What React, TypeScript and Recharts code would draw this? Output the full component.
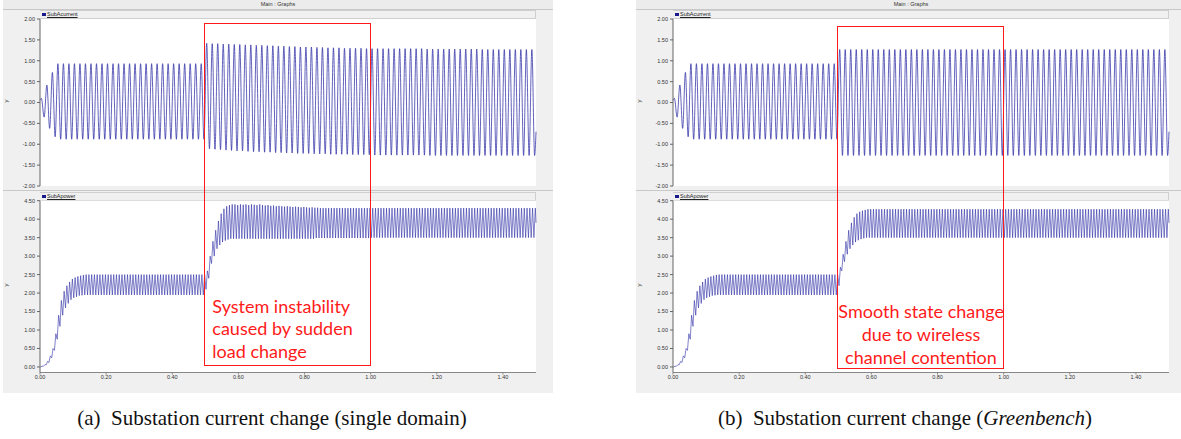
import React from 'react';
import { LineChart, Line, XAxis, YAxis, CartesianGrid } from 'recharts';

// ---- SubAcurrent (60 Hz): one peak and one trough per cycle ----
const currentPeaksBeforeStep = [
  0.1, 0.42, 0.72, 0.93, 0.93, 0.93, 0.93, 0.93, 0.93, 0.93,
  0.93, 0.93, 0.93, 0.93, 0.93, 0.93, 0.93, 0.93, 0.93, 0.93,
  0.93, 0.93, 0.93, 0.93, 0.93, 0.93, 0.93, 0.93, 0.93, 0.93,
];
const currentTroughsBeforeStep = [
  -0.35, -0.62, -0.82, -0.88, -0.88, -0.88, -0.88, -0.88, -0.88, -0.88,
  -0.88, -0.88, -0.88, -0.88, -0.88, -0.88, -0.88, -0.88, -0.88, -0.88,
  -0.88, -0.88, -0.88, -0.88, -0.88, -0.88, -0.88, -0.88, -0.88, -0.88,
];
const currentPeaksAfterStepA = [
  1.42, 1.41, 1.41, 1.4, 1.4, 1.39, 1.39, 1.38, 1.38, 1.37,
  1.37, 1.36, 1.36, 1.35, 1.35, 1.34, 1.34, 1.33, 1.33, 1.33,
  1.32, 1.32, 1.31, 1.31, 1.31, 1.3, 1.3, 1.3, 1.3, 1.29,
  1.29, 1.29, 1.29, 1.29, 1.29, 1.29, 1.29, 1.29, 1.29, 1.29,
  1.28, 1.28, 1.28, 1.28, 1.28, 1.28, 1.28, 1.28, 1.28, 1.28,
  1.27, 1.27, 1.27, 1.27, 1.27, 1.27, 1.27, 1.27, 1.27, 1.27,
];
const currentTroughsAfterStepA = [
  -1.11, -1.12, -1.13, -1.14, -1.15, -1.16, -1.16, -1.17, -1.18, -1.18,
  -1.19, -1.19, -1.2, -1.2, -1.21, -1.21, -1.22, -1.22, -1.22, -1.23,
  -1.23, -1.23, -1.24, -1.24, -1.24, -1.24, -1.25, -1.25, -1.25, -1.25,
  -1.26, -1.26, -1.26, -1.26, -1.26, -1.26, -1.26, -1.26, -1.26, -1.26,
  -1.27, -1.27, -1.27, -1.27, -1.27, -1.27, -1.27, -1.27, -1.27, -1.27,
  -1.27, -1.27, -1.27, -1.27, -1.27, -1.27, -1.27, -1.27, -1.27, -1.27,
];
const currentPeaksAfterStepB = [
  1.27, 1.27, 1.27, 1.27, 1.27, 1.27, 1.27, 1.27, 1.27, 1.27,
  1.27, 1.27, 1.27, 1.27, 1.27, 1.27, 1.27, 1.27, 1.27, 1.27,
  1.27, 1.27, 1.27, 1.27, 1.27, 1.27, 1.27, 1.27, 1.27, 1.27,
  1.27, 1.27, 1.27, 1.27, 1.27, 1.27, 1.27, 1.27, 1.27, 1.27,
  1.27, 1.27, 1.27, 1.27, 1.27, 1.27, 1.27, 1.27, 1.27, 1.27,
  1.27, 1.27, 1.27, 1.27, 1.27, 1.27, 1.27, 1.27, 1.27, 1.27,
];
const currentTroughsAfterStepB = [
  -1.27, -1.27, -1.27, -1.27, -1.27, -1.27, -1.27, -1.27, -1.27, -1.27,
  -1.27, -1.27, -1.27, -1.27, -1.27, -1.27, -1.27, -1.27, -1.27, -1.27,
  -1.27, -1.27, -1.27, -1.27, -1.27, -1.27, -1.27, -1.27, -1.27, -1.27,
  -1.27, -1.27, -1.27, -1.27, -1.27, -1.27, -1.27, -1.27, -1.27, -1.27,
  -1.27, -1.27, -1.27, -1.27, -1.27, -1.27, -1.27, -1.27, -1.27, -1.27,
  -1.27, -1.27, -1.27, -1.27, -1.27, -1.27, -1.27, -1.27, -1.27, -1.27,
];
const currentStartValue = 0.05;
const currentEndValue = -0.7;

// ---- SubApower (120 Hz ripple): one low and one high per ripple cycle ----
const powerLowsBeforeStep = [
  0, 0.02, 0.06, 0.12, 0.25, 0.45, 0.75, 1.1, 1.4, 1.6,
  1.72, 1.82, 1.87, 1.9, 1.93, 1.94, 1.95, 1.95, 1.95, 1.95,
  1.95, 1.95, 1.95, 1.95, 1.95, 1.95, 1.95, 1.95, 1.95, 1.95,
  1.95, 1.95, 1.95, 1.95, 1.95, 1.95, 1.95, 1.95, 1.95, 1.95,
  1.95, 1.95, 1.95, 1.95, 1.95, 1.95, 1.95, 1.95, 1.95, 1.95,
  1.95, 1.95, 1.95, 1.95, 1.95, 1.95, 1.95, 1.95, 1.95, 1.95,
];
const powerHighsBeforeStep = [
  0.02, 0.06, 0.15, 0.3, 0.5, 0.9, 1.4, 1.8, 2.05, 2.2,
  2.3, 2.38, 2.42, 2.45, 2.47, 2.49, 2.5, 2.5, 2.5, 2.5,
  2.5, 2.5, 2.5, 2.5, 2.5, 2.5, 2.5, 2.5, 2.5, 2.5,
  2.5, 2.5, 2.5, 2.5, 2.5, 2.5, 2.5, 2.5, 2.5, 2.5,
  2.5, 2.5, 2.5, 2.5, 2.5, 2.5, 2.5, 2.5, 2.5, 2.5,
  2.5, 2.5, 2.5, 2.5, 2.5, 2.5, 2.5, 2.5, 2.5, 2.5,
];
const powerLowsAfterStepA = [
  2.1, 2.4, 2.8, 3.0, 3.2, 3.3, 3.38, 3.42, 3.45, 3.47,
  3.47, 3.47, 3.47, 3.47, 3.47, 3.47, 3.47, 3.47, 3.47, 3.47,
  3.47, 3.47, 3.47, 3.47, 3.47, 3.47, 3.47, 3.47, 3.47, 3.47,
  3.47, 3.47, 3.47, 3.47, 3.47, 3.47, 3.47, 3.47, 3.47, 3.47,
  3.49, 3.49, 3.49, 3.49, 3.49, 3.49, 3.49, 3.49, 3.49, 3.49,
  3.49, 3.49, 3.49, 3.49, 3.49, 3.49, 3.49, 3.49, 3.49, 3.49,
  3.5, 3.5, 3.5, 3.5, 3.5, 3.5, 3.5, 3.5, 3.5, 3.5,
  3.5, 3.5, 3.5, 3.5, 3.5, 3.5, 3.5, 3.5, 3.5, 3.5,
  3.5, 3.5, 3.5, 3.5, 3.5, 3.5, 3.5, 3.5, 3.5, 3.5,
  3.5, 3.5, 3.5, 3.5, 3.5, 3.5, 3.5, 3.5, 3.5, 3.5,
  3.5, 3.5, 3.5, 3.5, 3.5, 3.5, 3.5, 3.5, 3.5, 3.5,
  3.5, 3.5, 3.5, 3.5, 3.5, 3.5, 3.5, 3.5, 3.5, 3.5,
];
const powerHighsAfterStepA = [
  2.6, 3.0, 3.4, 3.7, 3.95, 4.15, 4.28, 4.35, 4.38, 4.4,
  4.4, 4.38, 4.4, 4.39, 4.4, 4.38, 4.4, 4.39, 4.38, 4.4,
  4.38, 4.37, 4.38, 4.36, 4.37, 4.35, 4.36, 4.35, 4.34, 4.35,
  4.34, 4.33, 4.34, 4.33, 4.32, 4.33, 4.32, 4.31, 4.32, 4.31,
  4.31, 4.3, 4.3, 4.3, 4.3, 4.3, 4.3, 4.3, 4.3, 4.3,
  4.3, 4.3, 4.3, 4.3, 4.3, 4.3, 4.3, 4.3, 4.3, 4.3,
  4.3, 4.3, 4.3, 4.3, 4.3, 4.3, 4.3, 4.3, 4.3, 4.3,
  4.3, 4.3, 4.3, 4.3, 4.3, 4.3, 4.3, 4.3, 4.3, 4.3,
  4.3, 4.3, 4.3, 4.3, 4.3, 4.3, 4.3, 4.3, 4.3, 4.3,
  4.3, 4.3, 4.3, 4.3, 4.3, 4.3, 4.3, 4.3, 4.3, 4.3,
  4.3, 4.3, 4.3, 4.3, 4.3, 4.3, 4.3, 4.3, 4.3, 4.3,
  4.3, 4.3, 4.3, 4.3, 4.3, 4.3, 4.3, 4.3, 4.3, 4.3,
];
const powerLowsAfterStepB = [
  2.2, 2.6, 2.85, 3.05, 3.2, 3.3, 3.38, 3.43, 3.46, 3.48,
  3.5, 3.5, 3.5, 3.5, 3.5, 3.5, 3.5, 3.5, 3.5, 3.5,
  3.5, 3.5, 3.5, 3.5, 3.5, 3.5, 3.5, 3.5, 3.5, 3.5,
  3.5, 3.5, 3.5, 3.5, 3.5, 3.5, 3.5, 3.5, 3.5, 3.5,
  3.5, 3.5, 3.5, 3.5, 3.5, 3.5, 3.5, 3.5, 3.5, 3.5,
  3.5, 3.5, 3.5, 3.5, 3.5, 3.5, 3.5, 3.5, 3.5, 3.5,
  3.5, 3.5, 3.5, 3.5, 3.5, 3.5, 3.5, 3.5, 3.5, 3.5,
  3.5, 3.5, 3.5, 3.5, 3.5, 3.5, 3.5, 3.5, 3.5, 3.5,
  3.5, 3.5, 3.5, 3.5, 3.5, 3.5, 3.5, 3.5, 3.5, 3.5,
  3.5, 3.5, 3.5, 3.5, 3.5, 3.5, 3.5, 3.5, 3.5, 3.5,
  3.5, 3.5, 3.5, 3.5, 3.5, 3.5, 3.5, 3.5, 3.5, 3.5,
  3.5, 3.5, 3.5, 3.5, 3.5, 3.5, 3.5, 3.5, 3.5, 3.5,
];
const powerHighsAfterStepB = [
  2.7, 3.05, 3.4, 3.7, 3.9, 4.05, 4.15, 4.2, 4.23, 4.25,
  4.27, 4.27, 4.27, 4.27, 4.27, 4.27, 4.27, 4.27, 4.27, 4.27,
  4.27, 4.27, 4.27, 4.27, 4.27, 4.27, 4.27, 4.27, 4.27, 4.27,
  4.27, 4.27, 4.27, 4.27, 4.27, 4.27, 4.27, 4.27, 4.27, 4.27,
  4.27, 4.27, 4.27, 4.27, 4.27, 4.27, 4.27, 4.27, 4.27, 4.27,
  4.27, 4.27, 4.27, 4.27, 4.27, 4.27, 4.27, 4.27, 4.27, 4.27,
  4.27, 4.27, 4.27, 4.27, 4.27, 4.27, 4.27, 4.27, 4.27, 4.27,
  4.27, 4.27, 4.27, 4.27, 4.27, 4.27, 4.27, 4.27, 4.27, 4.27,
  4.27, 4.27, 4.27, 4.27, 4.27, 4.27, 4.27, 4.27, 4.27, 4.27,
  4.27, 4.27, 4.27, 4.27, 4.27, 4.27, 4.27, 4.27, 4.27, 4.27,
  4.27, 4.27, 4.27, 4.27, 4.27, 4.27, 4.27, 4.27, 4.27, 4.27,
  4.27, 4.27, 4.27, 4.27, 4.27, 4.27, 4.27, 4.27, 4.27, 4.27,
];
const powerStartValue = 0;
const powerEndValue = 3.9;

// ---- axes ----
const currentTicks = [-2, -1.5, -1, -0.5, 0, 0.5, 1, 1.5, 2];
const powerTicks = [0, 0.5, 1, 1.5, 2, 2.5, 3, 3.5, 4, 4.5];
const timeTicks = [0, 0.2, 0.4, 0.6, 0.8, 1.0, 1.2, 1.4];
const currentFrequency = 60;
const powerRippleFrequency = 120;
const endTime = 1.5;
const stepStart = 0.5;
const stepEnd = 1.0;

type Row = { t: number; v: number };

function buildWave(first: number[], second: number[], freq: number, startValue: number, endValue: number): Row[] {
  const rows: Row[] = [{ t: 0, v: startValue }];
  for (let c = 0; c < first.length; c++) {
    rows.push({ t: (c + 0.25) / freq, v: first[c] });
    rows.push({ t: (c + 0.75) / freq, v: second[c] });
  }
  rows.push({ t: endTime, v: endValue });
  return rows;
}

const currentA = buildWave(
  currentPeaksBeforeStep.concat(currentPeaksAfterStepA),
  currentTroughsBeforeStep.concat(currentTroughsAfterStepA),
  currentFrequency, currentStartValue, currentEndValue);
const currentB = buildWave(
  currentPeaksBeforeStep.concat(currentPeaksAfterStepB),
  currentTroughsBeforeStep.concat(currentTroughsAfterStepB),
  currentFrequency, currentStartValue, currentEndValue);
const powerA = buildWave(
  powerLowsBeforeStep.concat(powerLowsAfterStepA),
  powerHighsBeforeStep.concat(powerHighsAfterStepA),
  powerRippleFrequency, powerStartValue, powerEndValue);
const powerB = buildWave(
  powerLowsBeforeStep.concat(powerLowsAfterStepB),
  powerHighsBeforeStep.concat(powerHighsAfterStepB),
  powerRippleFrequency, powerStartValue, powerEndValue);

// ---- layout ----
const PANEL_W = 553;
const PLOT_LEFT = 40;
const PLOT_W = 496;
const RIGHT_M = PANEL_W - PLOT_LEFT - PLOT_W;
const LINE_COLOR = '#2e2ea6';
const SANS = '"Liberation Sans", Arial, sans-serif';
const TICK = { fontSize: 5.5, fill: '#333', fontFamily: SANS };
const fmt = (v: number) => v.toFixed(2);

function LegendStrip({ top, label }: { top: number; label: string }) {
  return (
    <div style={{ position: 'absolute', left: PLOT_LEFT, top, width: PLOT_W, height: 9, boxSizing: 'border-box',
      background: '#f0f0f0', border: '1px solid #cfcfcf', borderLeft: 'none' }}>
      <div style={{ position: 'absolute', left: 2, top: 2, width: 4, height: 3, background: '#1a1a8c' }} />
      <div style={{ position: 'absolute', left: 7, top: -1, fontSize: 5.5, fontFamily: SANS, color: '#222',
        textDecoration: 'underline', whiteSpace: 'nowrap', lineHeight: '8px' }}>{label}</div>
    </div>
  );
}

type PanelProps = {
  left: number; current: Row[]; power: Row[]; boxTop: number; boxBottom: number;
  lines: string[]; centered: boolean; textTop: number; lineHeight: number; caption: React.ReactNode;
};

function Panel({ left, current, power, boxTop, boxBottom, lines, centered, textTop, lineHeight, caption }: PanelProps) {
  const xOf = (t: number) => PLOT_LEFT + (t / endTime) * PLOT_W;
  const boxL = xOf(stepStart);
  const boxR = xOf(stepEnd);
  return (
    <div style={{ position: 'absolute', left, top: 0, width: PANEL_W, height: 439 }}>
      <div style={{ position: 'absolute', left: 3, top: 0, width: PANEL_W - 3, height: 393, background: '#f0f0f0' }} />
      <div style={{ position: 'absolute', left: 3, top: 0, width: PANEL_W - 3, height: 9, background: '#ececec',
        borderBottom: '1px solid #c8c8c8', textAlign: 'center', fontSize: 5.5, fontFamily: SANS, color: '#333', lineHeight: '9px' }}>
        Main : Graphs
      </div>
      <div style={{ position: 'absolute', left: 3, top: 190, width: PANEL_W - 3, height: 1, background: '#c8c8c8' }} />
      <LegendStrip top={10} label="SubAcurrent" />
      <LegendStrip top={192} label="SubApower" />

      <div style={{ position: 'absolute', left: 0, top: 0 }}>
        <LineChart width={PANEL_W} height={190} data={current} margin={{ top: 19, right: RIGHT_M, bottom: 4, left: 0 }}>
          <CartesianGrid horizontal={false} vertical={false} fill="#ffffff" />
          <XAxis dataKey="t" type="number" domain={[0, endTime]} hide />
          <YAxis type="number" domain={[-2, 2]} ticks={currentTicks} tickFormatter={fmt} width={PLOT_LEFT}
            tickSize={3} tickMargin={2} tick={TICK} axisLine={{ stroke: '#666' }} tickLine={{ stroke: '#666' }}
            label={{ value: 'y', angle: -90, position: 'insideLeft', offset: 6, style: { fontSize: 6, fill: '#333', fontFamily: SANS } }} />
          <Line dataKey="v" type="monotone" stroke={LINE_COLOR} strokeWidth={0.75} dot={false} isAnimationActive={false} />
        </LineChart>
      </div>

      <div style={{ position: 'absolute', left: 0, top: 190 }}>
        <LineChart width={PANEL_W} height={210} data={power} margin={{ top: 10.7, right: RIGHT_M, bottom: 0, left: 0 }}>
          <CartesianGrid horizontal={false} vertical={false} fill="#ffffff" />
          <XAxis dataKey="t" type="number" domain={[0, endTime]} ticks={timeTicks} tickFormatter={fmt} height={27.5}
            tickSize={2} tickMargin={1} tick={TICK} axisLine={{ stroke: '#888' }} tickLine={{ stroke: '#888' }} />
          <YAxis type="number" domain={[-0.15, 4.5]} ticks={powerTicks} tickFormatter={fmt} width={PLOT_LEFT}
            tickSize={3} tickMargin={2} tick={TICK} axisLine={{ stroke: '#666' }} tickLine={{ stroke: '#666' }}
            label={{ value: 'y', angle: -90, position: 'insideLeft', offset: 6, style: { fontSize: 6, fill: '#333', fontFamily: SANS } }} />
          <Line dataKey="v" type="linear" stroke={LINE_COLOR} strokeWidth={0.6} dot={false} isAnimationActive={false} />
        </LineChart>
      </div>

      <div style={{ position: 'absolute', left: boxL - 1, top: boxTop, width: boxR - boxL + 1, height: boxBottom - boxTop,
        boxSizing: 'border-box', border: '1.3px solid #ff1a1a' }} />
      <div style={{ position: 'absolute', left: centered ? boxL : boxL + 7, top: textTop, width: centered ? boxR - boxL : 170,
        textAlign: centered ? 'center' : 'left', color: '#ff1a1a', fontFamily: 'Lato, "Open Sans", sans-serif',
        fontSize: 18, lineHeight: `${lineHeight}px`, whiteSpace: 'nowrap' }}>
        {lines.map((l) => <div key={l}>{l}</div>)}
      </div>

      <div style={{ position: 'absolute', left: 2, top: 406, width: 540, textAlign: 'center', fontSize: 21,
        lineHeight: '24px', fontFamily: '"Liberation Serif", "Times New Roman", serif', color: '#111', whiteSpace: 'nowrap' }}>
        {caption}
      </div>
    </div>
  );
}

export default function App() {
  return (
    <div style={{ position: 'absolute', left: 0, top: 0, width: 1181, height: 439, background: '#fff', overflow: 'hidden' }}>
      <Panel left={0} current={currentA} power={powerA} boxTop={22.5} boxBottom={366}
        lines={['System instability', 'caused by sudden', 'load change']} centered={false} textTop={294.5} lineHeight={22.5}
        caption={<span>(a)&nbsp; Substation current change (single domain)</span>} />
      <Panel left={633} current={currentB} power={powerB} boxTop={25.5} boxBottom={368.5}
        lines={['Smooth state change', 'due to wireless', 'channel contention']} centered={true} textTop={300} lineHeight={23}
        caption={<span>(b)&nbsp; Substation current change (<i>Greenbench</i>)</span>} />
    </div>
  );
}
